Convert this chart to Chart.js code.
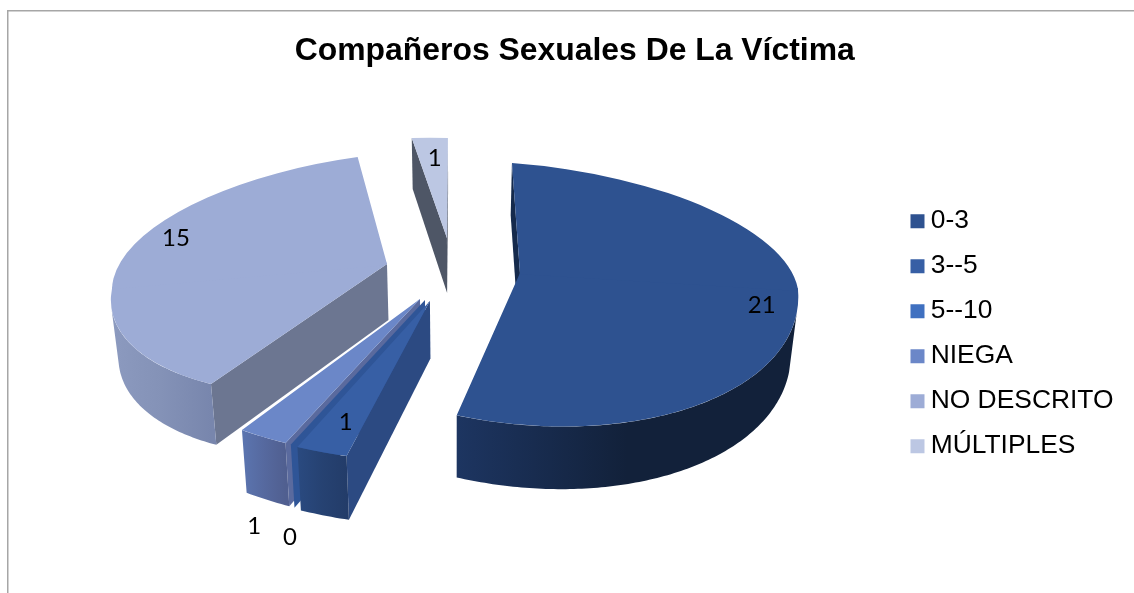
<!DOCTYPE html>
<html><head><meta charset="utf-8">
<style>html,body{margin:0;padding:0;background:#fff;overflow:hidden}canvas{display:block}</style>
<script src="https://cdn.jsdelivr.net/npm/chart.js@4"></script>
</head><body>
<canvas id="c" width="1134" height="593" style="width:1134px;height:593px"></canvas>
<script>
const titleText = 'Compañeros Sexuales De La Víctima';
const categories = ['0-3','3--5','5--10','NIEGA','NO DESCRITO','MÚLTIPLES'];
const values = [21,1,0,1,15,1];
const explodeDistance = [70,60,60,60,66,84];
const topColors = ['#2e5290','#375fa5','#3f70c0','#6b87c8','#9dacd6','#bcc7e3'];
const faceColors = ['#152a4c','#2c4a82','#2f5597','#5a6a9e','#6c7691','#4e5666'];
const wallShades = [['#1d3561','#12213a','#12213a'],['#2a4a80','#264272','#233c69'],['#2f5597','#2f5597','#2f5597'],['#5b75b0','#56699f','#505f90'],['#8c9abf','#8492b7','#7886ad'],['#4e5666','#4e5666','#4e5666']];
const views = [
 {a:.993,b:.06,cUp:.0634,dUp:.395,cLow:.047,dLow:.545,nx:.8,ny:-5},
 {a:1.157,b:0,cUp:.019,dUp:.5755,cLow:.019,dLow:.5755,nx:3.1,ny:.7},
 {a:1.13,b:0,cUp:0,dUp:.57,cLow:0,dLow:.57,nx:3.7,ny:1},
 {a:1.118,b:.005,cUp:-.007,dUp:.57,cLow:-.007,dLow:.57,nx:3.6,ny:1.45},
 {a:.982,b:-.086,cUp:-.019,dUp:.396,cLow:-.091,dLow:.46,nx:-.3,ny:-3.4},
 {a:.805,b:.016,cUp:.0246,dUp:.358,cLow:.0246,dLow:.358,nx:2.1,ny:.1}
];
const labelNudges = [[-35,-8],[24,-30],[-1,93],[-9,89],[55,-23],[5,21]];
const drawOrder = [5,4,3,2,1,0];
const pivot = {x:450,y:268};

function geom(arc,i){
  const v=views[i], tr=explodeDistance[i], R0=arc.outerRadius;
  const mid=(arc.startAngle+arc.endAngle)/2, dx=Math.cos(mid), dy=Math.sin(mid);
  const cc=dy<0?v.cUp:v.cLow, dd=dy<0?v.dUp:v.dLow;
  const S={x:pivot.x+(v.a*dx+cc*dy)*tr+v.nx, y:pivot.y+(v.b*dx+dd*dy)*tr+v.ny};
  const P=(ang,r=R0)=>{const ux=Math.cos(ang)*r,uy=Math.sin(ang)*r,c=uy<0?v.cUp:v.cLow,d=uy<0?v.dUp:v.dLow;
    return {x:S.x+v.a*ux+c*uy,y:S.y+v.b*ux+d*uy};};
  return {v,R0,mid,S,P};
}
const ext=p=>({x:p.x+(455-p.x)*.022,y:p.y+45.5+.04*p.y});
function poly(ctx,pts){ctx.beginPath();pts.forEach((p,k)=>k?ctx.lineTo(p.x,p.y):ctx.moveTo(p.x,p.y));ctx.closePath();}

const pie3d={
  id:'pie3d',
  beforeDraw(chart){
    const ctx=chart.ctx;ctx.save();ctx.strokeStyle='#a6a6a6';ctx.lineWidth=1.5;
    ctx.beginPath();ctx.moveTo(7.75,593);ctx.lineTo(7.75,10.75);ctx.lineTo(1134,10.75);ctx.stroke();ctx.restore();
  },
  beforeDatasetDraw(chart,args){
    const ctx=chart.ctx, arcs=chart.getDatasetMeta(args.index).data;
    drawOrder.forEach(i=>{
      const arc=arcs[i], g=geom(arc,i), A=g.S;
      [[arc.startAngle,1],[arc.endAngle,-1]].forEach(([ang,sgn])=>{
        const B=g.P(ang), ny=sgn>0?-(B.x-A.x):(B.x-A.x);
        if(ny>0 || (arc.circumference===0&&sgn>0)){
          ctx.fillStyle=faceColors[i];poly(ctx,[A,B,ext(B),ext(A)]);ctx.fill();
        }
      });
      const top=[];
      const n=Math.max(2,Math.ceil((arc.endAngle-arc.startAngle)/0.015));
      for(let k=0;k<=n;k++){const ang=arc.startAngle+(arc.endAngle-arc.startAngle)*k/n;if(Math.sin(ang)>=.15)top.push(g.P(ang));}
      if(top.length>1){
        const xs=top.map(p=>p.x), x0=Math.min(...xs), x1=Math.max(...xs);
        const gr=ctx.createLinearGradient(x0,0,x1,0);
        wallShades[i].forEach((c,k)=>gr.addColorStop(k/2,c));
        ctx.fillStyle=gr;poly(ctx,top.concat(top.map(ext).reverse()));ctx.fill();
      }
      if(arc.circumference>0){
        [1,0].forEach(h=>{
          const v=g.v,c=h?v.cLow:v.cUp,d=h?v.dLow:v.dUp;
          ctx.save();
          ctx.setTransform(v.a,v.b,c,d,g.S.x-v.a*arc.x-c*arc.y,g.S.y-v.b*arc.x-d*arc.y);
          ctx.beginPath();ctx.rect(arc.x-3000,h?arc.y-3:arc.y-3000,6000,3003);ctx.clip();
          arc.draw(ctx);
          ctx.restore();
        });
      }
    });
    return false;
  },
  afterDatasetsDraw(chart){
    const ctx=chart.ctx, arcs=chart.getDatasetMeta(0).data;
    ctx.save();ctx.fillStyle='#000';ctx.font='24px Lato';ctx.textAlign='center';ctx.textBaseline='middle';
    arcs.forEach((arc,i)=>{const g=geom(arc,i),p=g.P(g.mid);ctx.fillText(String(values[i]),p.x+labelNudges[i][0],p.y+labelNudges[i][1]);});
    ctx.restore();
  }
};

new Chart(document.getElementById('c'),{
  type:'pie',
  data:{labels:categories,datasets:[{data:values,backgroundColor:topColors,borderWidth:0}]},
  plugins:[pie3d],
  options:{
    responsive:false,animation:false,rotation:2,radius:280,
    layout:{padding:{left:26,right:10.5,top:0,bottom:115}},
    plugins:{
      tooltip:{enabled:false},
      title:{display:true,text:titleText,color:'#000',font:{family:'"Liberation Sans"',size:31.9,weight:'bold'},padding:{top:32,bottom:30}},
      legend:{position:'right',align:'end',labels:{usePointStyle:true,pointStyle:'rect',boxWidth:0.01,boxHeight:14,padding:18.6,color:'#000',font:{family:'"Liberation Sans"',size:26.4}}}
    }
  }
});
</script>
</body></html>
